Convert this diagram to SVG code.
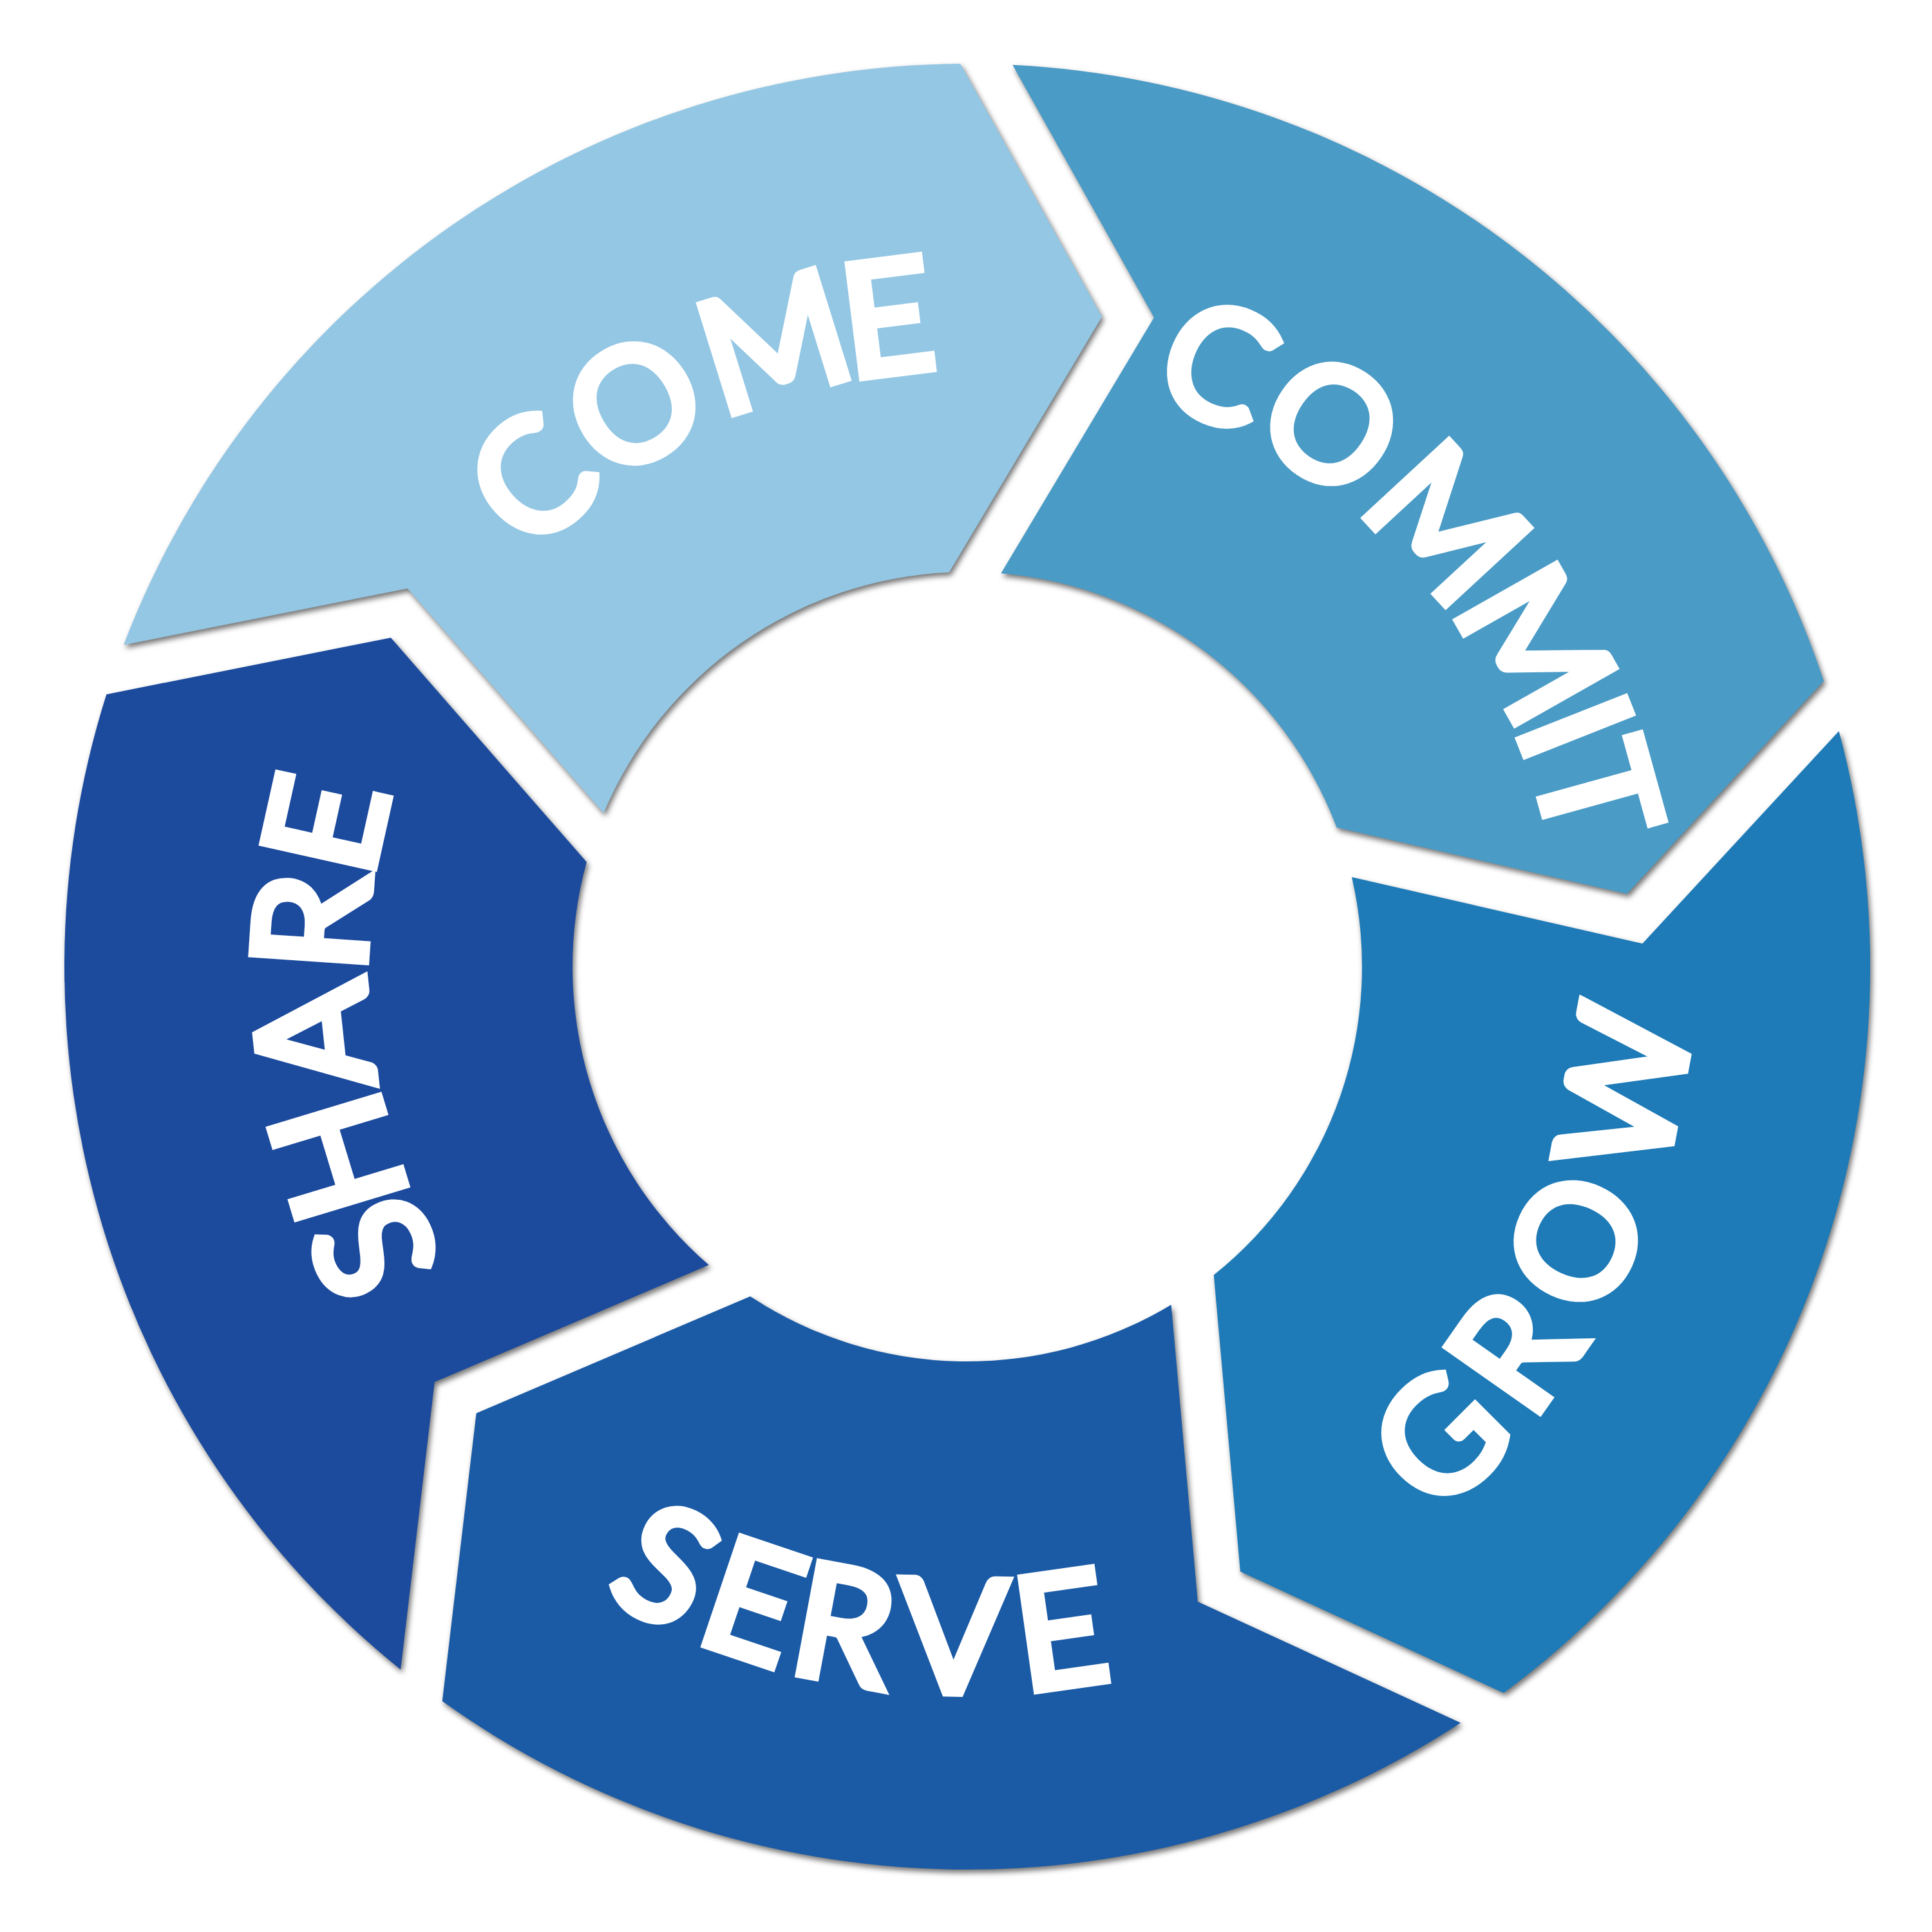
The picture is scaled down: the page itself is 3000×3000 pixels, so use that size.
<svg xmlns="http://www.w3.org/2000/svg" xmlns:xlink="http://www.w3.org/1999/xlink" width="3000" height="3000" viewBox="0 0 3000 3000">
  <defs>
    <style>
      .lbl { font-family: Lato, "Open Sans", "Liberation Sans", sans-serif; font-weight: 400; font-size: 243px; fill: #ffffff; stroke: #ffffff; stroke-width: 14px; stroke-linejoin: miter; stroke-miterlimit: 4; text-anchor: middle; }
    </style>
    <filter id="sh" x="-10%" y="-10%" width="120%" height="120%" color-interpolation-filters="sRGB">
      <feDropShadow dx="3" dy="5" stdDeviation="4" flood-color="#2a2a2a" flood-opacity="0.65"/>
    </filter>
    <path id="seg" d="M 2903.40 1541.95 A 1402 1402 0 0 1 1973.35 2821.39 L 1636.34 2522.81 L 1730.04 2070.00 A 613 613 0 0 0 2113.72 1540.56 L 2515.90 1769.85 Z"/>
    <path id="pCome" d="M 788.82 2099.44 A 931 931 0 0 1 2215.18 902.56" fill="none"/>
    <path id="pCommit" d="M 698.32 1037 A 928 928 0 0 1 2305.68 1965" fill="none"/>
    <path id="pGrow" d="M 940 2474.42 A 1124 1124 0 0 0 2064 527.58" fill="none"/>
    <path id="pServe" d="M 392.12 1305.30 A 1127 1127 0 0 0 2611.88 1696.70" fill="none"/>
    <path id="pShare" d="M 1502 2435 A 934 934 0 0 1 1502 567" fill="none"/>
  </defs>
  <rect x="0" y="0" width="3000" height="3000" fill="#ffffff"/>

  <g id="come">
    <g filter="url(#sh)"><use href="#seg" xlink:href="#seg" fill="#94c7e4" transform="rotate(-160.8 1502 1501)"/></g>
    <text class="lbl"><textPath href="#pCome" xlink:href="#pCome"><tspan x="1431.1 1612.5 1829.6 1994.5">COME</tspan></textPath></text>
  </g>

  <g id="commit">
    <g filter="url(#sh)"><use href="#seg" xlink:href="#seg" fill="#4a9bc6" transform="rotate(-88.8 1502 1501)"/></g>
    <text class="lbl"><textPath href="#pCommit" xlink:href="#pCommit"><tspan x="1337.4 1520.5 1737.1 1950.5 2080.4 2178.5">COMMIT</tspan></textPath></text>
  </g>

  <g id="grow">
    <g filter="url(#sh)"><use href="#seg" xlink:href="#seg" fill="#1e7bb8" transform="rotate(-16.8 1502 1501)"/></g>
    <text class="lbl"><textPath href="#pGrow" xlink:href="#pGrow"><tspan x="1471.3 1665.5 1877.3 2146.1">GROW</tspan></textPath></text>
  </g>

  <g id="serve">
    <g filter="url(#sh)"><use href="#seg" xlink:href="#seg" fill="#1b5ba6" transform="rotate(55.2 1502 1501)"/></g>
    <text class="lbl"><textPath href="#pServe" xlink:href="#pServe"><tspan x="1441.9 1600.1 1758.5 1944.4 2124.4">SERVE</tspan></textPath></text>
  </g>

  <g id="share">
    <g filter="url(#sh)"><use href="#seg" xlink:href="#seg" fill="#1c4b9e" transform="rotate(127.2 1502 1501)"/></g>
    <text class="lbl"><textPath href="#pShare" xlink:href="#pShare"><tspan x="1052.3 1192.5 1367.6 1530.2 1670.9">SHARE</tspan></textPath></text>
  </g>
</svg>
